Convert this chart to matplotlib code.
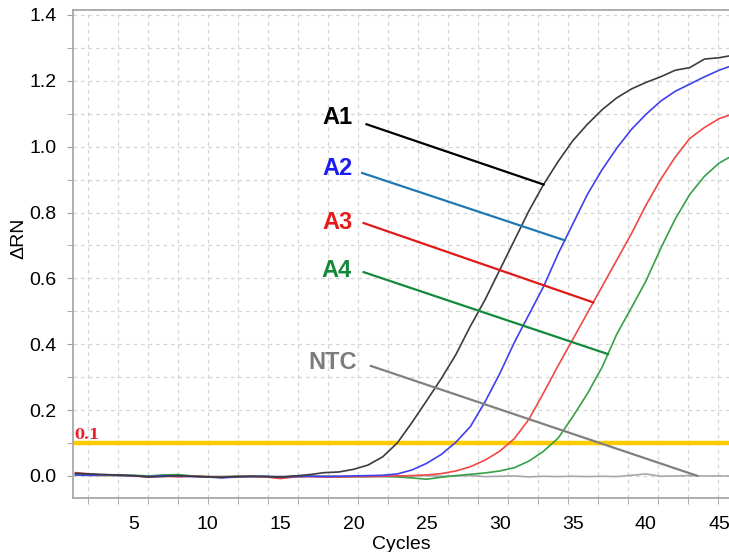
import matplotlib.pyplot as plt
import numpy as np
from matplotlib.ticker import FixedLocator

plt.rcParams['font.family'] = ['Liberation Sans', 'DejaVu Sans']

cycles = np.arange(1, 47)

a1 = [0.008, 0.006, 0.004, 0.003, 0.001, -0.003, -0.002, 0.001, -0.001, -0.003,
      -0.004, -0.002, -0.001, -0.002, -0.004, 0.000, 0.004, 0.010, 0.012, 0.020,
      0.033, 0.058, 0.100, 0.162, 0.228, 0.295, 0.368, 0.455, 0.535, 0.625,
      0.715, 0.805, 0.885, 0.955, 1.018, 1.068, 1.112, 1.148, 1.175, 1.195,
      1.212, 1.232, 1.240, 1.266, 1.270, 1.278]
a2 = [0.003, 0.002, 0.004, 0.002, 0.000, -0.002, 0.001, 0.000, -0.002, -0.003,
      -0.006, -0.003, -0.002, -0.001, -0.003, -0.002, -0.001, -0.002, -0.001, 0.000,
      0.001, 0.002, 0.006, 0.018, 0.038, 0.065, 0.102, 0.150, 0.225, 0.310,
      0.405, 0.490, 0.575, 0.675, 0.765, 0.855, 0.930, 0.995, 1.052, 1.098,
      1.138, 1.168, 1.190, 1.212, 1.232, 1.248]
a3 = [0.010, 0.006, 0.003, 0.002, 0.000, -0.004, 0.000, -0.003, -0.001, -0.002,
      -0.004, -0.002, -0.002, -0.003, -0.008, -0.003, -0.002, -0.003, -0.003, -0.002,
      -0.002, -0.001, 0.000, 0.001, 0.003, 0.007, 0.015, 0.028, 0.048, 0.075,
      0.113, 0.172, 0.252, 0.335, 0.415, 0.495, 0.575, 0.655, 0.735, 0.822,
      0.900, 0.968, 1.025, 1.058, 1.085, 1.100]
a4 = [0.005, 0.004, 0.003, 0.001, 0.002, 0.000, 0.003, 0.004, 0.000, -0.002,
      -0.003, -0.002, -0.001, -0.002, -0.004, -0.002, -0.001, -0.002, -0.003, -0.002,
      -0.002, -0.002, -0.003, -0.006, -0.010, -0.004, 0.001, 0.005, 0.009, 0.015,
      0.025, 0.045, 0.075, 0.115, 0.180, 0.250, 0.330, 0.430, 0.510, 0.592,
      0.690, 0.780, 0.855, 0.910, 0.950, 0.975]
ntc = [0.002, 0.001, 0.000, 0.001, -0.001, 0.000, 0.001, -0.001, 0.000, -0.002,
       -0.001, 0.000, -0.001, -0.002, -0.001, 0.000, -0.001, 0.000, -0.001, -0.002,
       -0.001, 0.000, -0.001, 0.000, 0.001, -0.001, 0.000, 0.001, -0.002, -0.001,
       0.000, -0.003, -0.001, -0.002, -0.001, -0.002, -0.001, -0.002, 0.002, 0.006,
       -0.001, 0.000, 0.001, 0.000, 0.000, 0.000]

threshold = 0.1

series = [a1, a2, a3, a4, ntc]
labels = ['A1', 'A2', 'A3', 'A4', 'NTC']
curve_colors = ['#3c3c3c', '#4040f0', '#f04848', '#35a048', '#a8a8a8']
label_colors = ['#000000', '#1c1cf0', '#e41c1c', '#14883a', '#7c7c7c']
leader_colors = ['#000000', '#1f78b4', '#e01818', '#12893c', '#808080']

# where each label sits and where its leader line starts / ends (cycle)
label_xy = [(18.9, 1.09), (18.9, 0.935), (18.9, 0.771), (18.85, 0.625), (18.6, 0.343)]
leader_start = [(20.9, 1.068), (20.6, 0.92), (20.7, 0.768), (20.7, 0.619), (21.2, 0.334)]
leader_end_x = [33.0, 34.45, 36.4, 37.4, 43.5]

fig = plt.figure(figsize=(7.29, 5.52), dpi=100)
ax = fig.add_axes([73 / 729, 54 / 552, 656 / 729, 488 / 552])

ax.axhline(threshold, color='#ffcc00', linewidth=3.2, zorder=2)
ax.text(0.95, threshold + 0.004, '0.1', color='#e8202a', fontsize=10.5,
        fontweight='bold', family='DejaVu Serif', ha='left', va='bottom', zorder=5)

for i in [4, 3, 2, 1, 0]:
    ax.plot(cycles, series[i], color=curve_colors[i], linewidth=1.2, zorder=3)

for i in range(5):
    x0, y0 = leader_start[i]
    x1 = leader_end_x[i]
    y1 = np.interp(x1, cycles, series[i])
    ax.plot([x0, x1], [y0, y1], color=leader_colors[i], linewidth=1.6, zorder=4)
    ax.text(label_xy[i][0], label_xy[i][1], labels[i], color=label_colors[i],
            fontsize=17, fontweight='bold', ha='center', va='center', zorder=5)

ax.set_xlim(0.83, 45.68)
ax.set_ylim(-0.067, 1.415)

ax.set_xticks(np.arange(5, 46, 5))
ax.xaxis.set_minor_locator(FixedLocator(1.855 + 2.051 * np.arange(22)))
ax.set_yticks(np.round(np.arange(0, 1.41, 0.2), 1))
ax.set_yticklabels(['%.1f' % v for v in np.arange(0, 1.41, 0.2)])
ax.yaxis.set_minor_locator(FixedLocator(np.arange(0.1, 1.41, 0.2)))

ax.tick_params(axis='x', which='major', length=0, pad=13, labelsize=14)
ax.tick_params(axis='x', which='minor', length=4, color='#a0a0a0')
ax.tick_params(axis='y', which='both', length=4, color='#a0a0a0', direction='out')
ax.tick_params(axis='y', which='major', pad=8, labelsize=14)

ax.grid(which='minor', axis='x', color='#d4d4d4', linestyle=(0, (3, 3)), linewidth=0.9)
ax.grid(which='both', axis='y', color='#d4d4d4', linestyle=(0, (3, 3)), linewidth=0.9)
ax.set_axisbelow(True)

for side in ['left', 'bottom', 'top']:
    ax.spines[side].set_color('#a8a8a8')
    ax.spines[side].set_linewidth(1.3)
ax.spines['right'].set_visible(False)

ax.set_xlabel('Cycles', fontsize=14, labelpad=0)
ax.set_ylabel('ΔRN', fontsize=14)
ax.xaxis.set_label_coords(0.5, -0.077)
ax.yaxis.set_label_coords(-0.07, 0.533)

plt.savefig('out.png', dpi=100)
